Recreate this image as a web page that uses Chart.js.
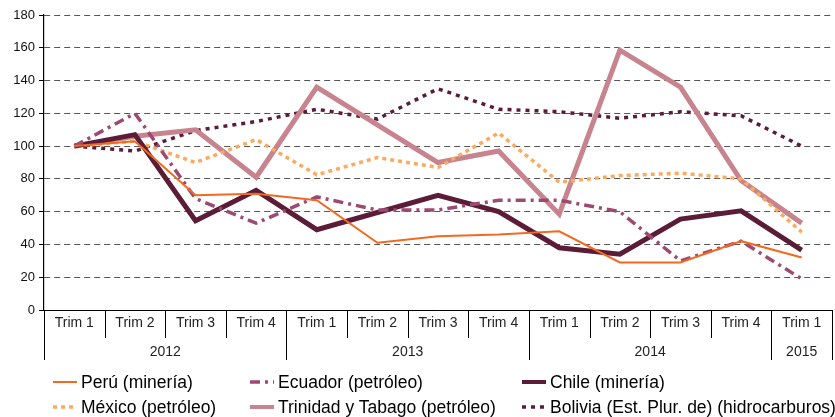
<!DOCTYPE html>
<html><head><meta charset="utf-8">
<script src="https://cdn.jsdelivr.net/npm/chart.js@4.4.1/dist/chart.umd.min.js"></script>
<style>
body{margin:0;background:#fff;font-family:"Liberation Sans",Arial,sans-serif}
#wrap{position:relative;width:835px;height:417px}
#legend{position:absolute;left:0;top:0;width:835px;height:417px;pointer-events:none;font-size:17.5px;color:#000}
.item{position:absolute;display:flex;align-items:center;white-space:nowrap;height:20px}
.item svg{margin-right:4px}
</style></head><body>
<div id="wrap"><canvas id="c" width="835" height="417"></canvas><div id="legend"></div></div>
<script>
const quarters=['Trim 1','Trim 2','Trim 3','Trim 4','Trim 1','Trim 2','Trim 3','Trim 4','Trim 1','Trim 2','Trim 3','Trim 4','Trim 1'];
const years=['2012','2013','2014','2015'];
const yearSpan=[4,4,4,1];
const yTicks=[0,20,40,60,80,100,120,140,160,180];

const peru=[100,103,70,71,67,41,45,46,48,29,29,42,32];
const ecuador=[100,120,68,53,69,61,61,67,67,60,30,42,19];
const chile=[100,107,54.5,73,49,59.5,70,60,38,34,55.5,60.5,36.5];
const mexico=[100,103,90,104,82.5,93,87,108,78,82,83.5,80,47.5];
const trinidad=[100,106,110,81,136,113,90,97,58.5,158.5,136,79,53];
const bolivia=[100,97,109.5,115,122.5,116.5,135,122.5,121,117,121,118.5,100];

const series=[
  {label:'Perú (minería)',data:peru,color:'#f26a1f',w:2,dash:[],col:0,row:0},
  {label:'Ecuador (petróleo)',data:ecuador,color:'#9c4a72',w:3.5,dash:[10,5,3,5],col:1,row:0},
  {label:'Chile (minería)',data:chile,color:'#5b1c38',w:5,dash:[],col:2,row:0},
  {label:'México (petróleo)',data:mexico,color:'#fbaa5f',w:3.5,dash:[4,4],col:0,row:1},
  {label:'Trinidad y Tabago (petróleo)',data:trinidad,color:'#c8848e',w:5,dash:[],col:1,row:1},
  {label:'Bolivia (Est. Plur. de) (hidrocarburos)',data:bolivia,color:'#5b1c38',w:3.5,dash:[4,5],col:2,row:1}
];

// bottom table: quarter separators, year separators and year labels
const yearRow={
  id:'yearRow',
  afterDraw(chart){
    const x=chart.scales.x, ctx=chart.ctx, base=chart.chartArea.bottom;
    const step=x.getPixelForValue(1)-x.getPixelForValue(0);
    const edge=i=>x.getPixelForValue(i)-step/2;
    const bounds=[0];yearSpan.forEach(s=>bounds.push(bounds[bounds.length-1]+s));
    ctx.save();
    ctx.strokeStyle='#000';ctx.lineWidth=1;
    for(let i=0;i<=quarters.length;i++){
      const px=Math.round(edge(i))+0.5;
      ctx.beginPath();ctx.moveTo(px,base);ctx.lineTo(px,bounds.includes(i)?base+50:base+28);ctx.stroke();
    }
    ctx.fillStyle='#222';ctx.font='14px "Liberation Sans", Arial';ctx.textAlign='center';ctx.textBaseline='middle';
    years.forEach((y,k)=>ctx.fillText(y,(edge(bounds[k])+edge(bounds[k+1]))/2,base+42));
    ctx.restore();
  }
};

new Chart(document.getElementById('c'),{
  type:'line',
  data:{labels:quarters,datasets:series.map(s=>({label:s.label,data:s.data,borderColor:s.color,backgroundColor:s.color,
    borderWidth:s.w,borderDash:s.dash,pointRadius:0,tension:0,fill:false,borderCapStyle:'butt'}))},
  options:{
    responsive:false,animation:false,
    layout:{padding:{top:15,right:3,left:0,bottom:0}},
    plugins:{legend:{display:false},tooltip:{enabled:false}},
    scales:{
      x:{offset:true,grid:{display:false,drawTicks:false},border:{display:true,color:'#000',width:1},
        ticks:{color:'#222',font:{size:14,family:'"Liberation Sans", Arial'},padding:5,maxRotation:0,autoSkip:false},
        afterFit:s=>{s.height=107}},
      y:{min:0,max:180,afterBuildTicks:s=>{s.ticks=yTicks.map(v=>({value:v}))},
        grid:{color:'#555',lineWidth:1,tickLength:5,tickColor:'#000',tickBorderDash:[]},
        border:{display:true,color:'#000',width:1.2,dash:[6,4]},
        ticks:{color:'#111',font:{size:13,family:'"Liberation Sans", Arial'},padding:4},
        afterFit:s=>{s.width=44}}
    }
  },
  plugins:[yearRow]
});

// legend
const colX=[53,250,522], rowY=[372,397];
const leg=document.getElementById('legend');
series.forEach(s=>{
  const d=document.createElement('div');d.className='item';
  d.style.left=colX[s.col]+'px';d.style.top=rowY[s.row]+'px';
  d.innerHTML=`<svg width="24" height="10"><line x1="0" y1="5" x2="24" y2="5" stroke="${s.color}" stroke-width="${Math.min(s.w,4)}" stroke-dasharray="${s.dash.length?s.dash.join(' '):'none'}"/></svg><span>${s.label}</span>`;
  leg.appendChild(d);
});
</script>
</body></html>
